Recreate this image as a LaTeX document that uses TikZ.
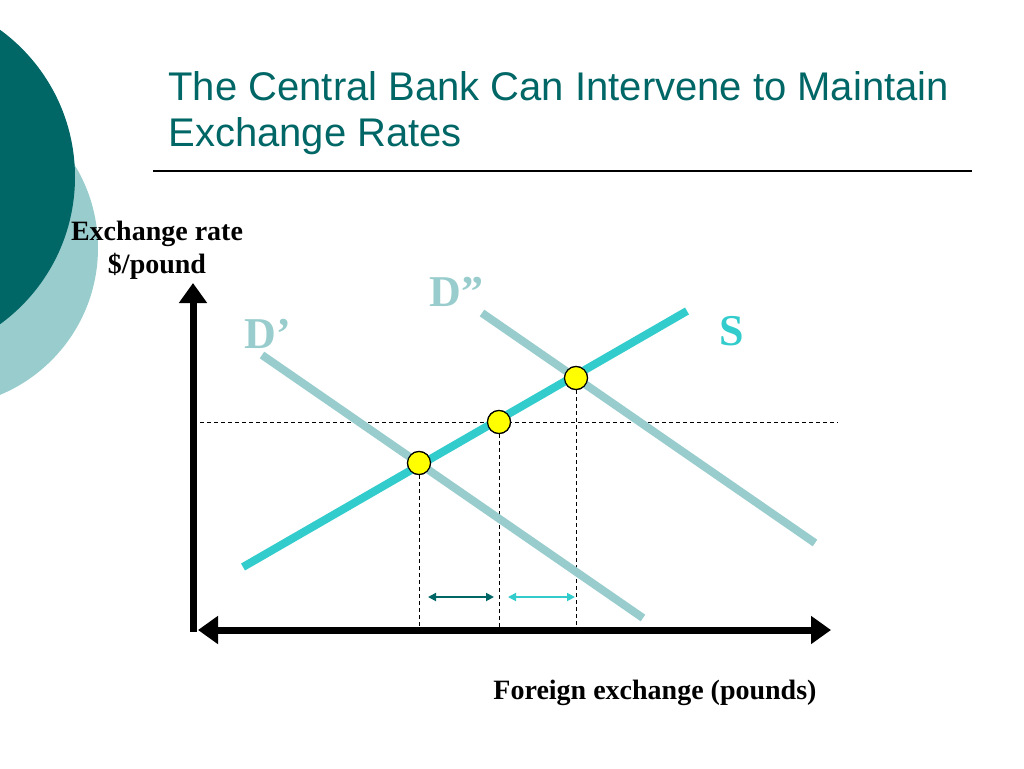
\documentclass[tikz,border=0pt]{standalone}
\usepackage{fontspec}
\setmainfont{Liberation Serif}
\newfontfamily\titlefont{Liberation Sans}
\usepackage{tikz}
\usetikzlibrary{arrows.meta, positioning, calc}
\definecolor{cDark}{RGB}{0,102,102}
\definecolor{cPale}{RGB}{153,204,204}
\definecolor{cTurq}{RGB}{51,204,204}
\definecolor{cDot}{RGB}{255,255,0}
\tikzset{
	axis/.style     ={line width=7pt, {Triangle[length=20pt, width=27pt]}-},
	haxis/.style    ={line width=7pt, {Triangle[length=20pt, width=27pt]}-{Triangle[length=20pt, width=27pt]}},
	supply/.style   ={line width=8pt, cTurq},
	demand/.style   ={line width=8pt, cPale},
	guide/.style    ={thin, black, dash pattern=on 4pt off 3pt},
	eqdot/.style    ={circle, draw=black, fill=cDot, line width=1.2pt, minimum size=23pt, inner sep=0pt},
	shiftarrow/.style={line width=1.8pt, {Triangle[length=8pt, width=8pt]}-{Triangle[length=8pt, width=8pt]}},
	curvelabel/.style={font=\fontsize{44}{46}\selectfont\bfseries, anchor=base west},
	axislabel/.style={font=\fontsize{28}{33}\selectfont\bfseries, align=center, anchor=base},
}
\begin{document}
\begin{tikzpicture}[x=1pt, y=-1pt]
	\useasboundingbox (0,0) rectangle (1024,768);
	\clip (0,0) rectangle (1024,768);
	% side circles
	\fill[cPale] (-61,248) circle (159);
	\fill[cDark] (-107,177) circle (182);
	% title
	\node[font=\titlefont\fontsize{40}{46}\selectfont, text=cDark, anchor=base west, align=left] (title) at (165,146) {The Central Bank Can Intervene to Maintain\\Exchange Rates};
	\draw[line width=1.2pt] (153,171) -- (972,171);
	% axes
	\coordinate (origin) at (193,632);
	\coordinate (ytop) at (193,283);
	\coordinate (xleft) at (198,630);
	\coordinate (xright) at (831,630);
	\draw[axis] (ytop) -- (origin);
	\draw[haxis] (xleft) -- (xright);
	\node[axislabel] (ylab) at (157,273) {Exchange rate\\\$/pound};
	\node[axislabel] (xlab) at (655,699) {Foreign exchange (pounds)};
	% equilibrium points
	\node[eqdot] (eqA) at (419,463) {};
	\node[eqdot] (eqB) at (499,422) {};
	\node[eqdot] (eqC) at (576,378) {};
	% guide lines
	\coordinate (hleft) at (200,422);
	\coordinate (hright) at (838,422);
	\draw[guide] (hleft) -- (hright);
	\draw[guide] (eqA) -- (eqA |- xleft);
	\draw[guide] (eqB) -- (eqB |- xleft);
	\draw[guide] (eqC) -- (eqC |- xleft);
	% curves
	\coordinate (dAa) at (262,355);
	\coordinate (dAb) at (643,618);
	\coordinate (dBa) at (482,313);
	\coordinate (dBb) at (815,543);
	\coordinate (sa) at (243,567);
	\coordinate (sb) at (687,311);
	\draw[demand] (dAa) -- (dAb);
	\draw[demand] (dBa) -- (dBb);
	\draw[supply] (sa) -- (sb);
	\node[eqdot] at (eqA) {};
	\node[eqdot] at (eqB) {};
	\node[eqdot] at (eqC) {};
	\node[curvelabel, text=cPale] (labDA) at (241,348) {D’};
	\node[curvelabel, text=cPale] (labDB) at (426,306) {D”};
	\node[curvelabel, text=cTurq] (labS) at (716,345) {S};
	% shifts
	\coordinate (sh1a) at (428,597);
	\coordinate (sh1b) at (494,597);
	\coordinate (sh2a) at (508,597);
	\coordinate (sh2b) at (575,597);
	\draw[shiftarrow, cDark] (sh1a) -- (sh1b);
	\draw[shiftarrow, cTurq] (sh2a) -- (sh2b);
\end{tikzpicture}
\end{document}
